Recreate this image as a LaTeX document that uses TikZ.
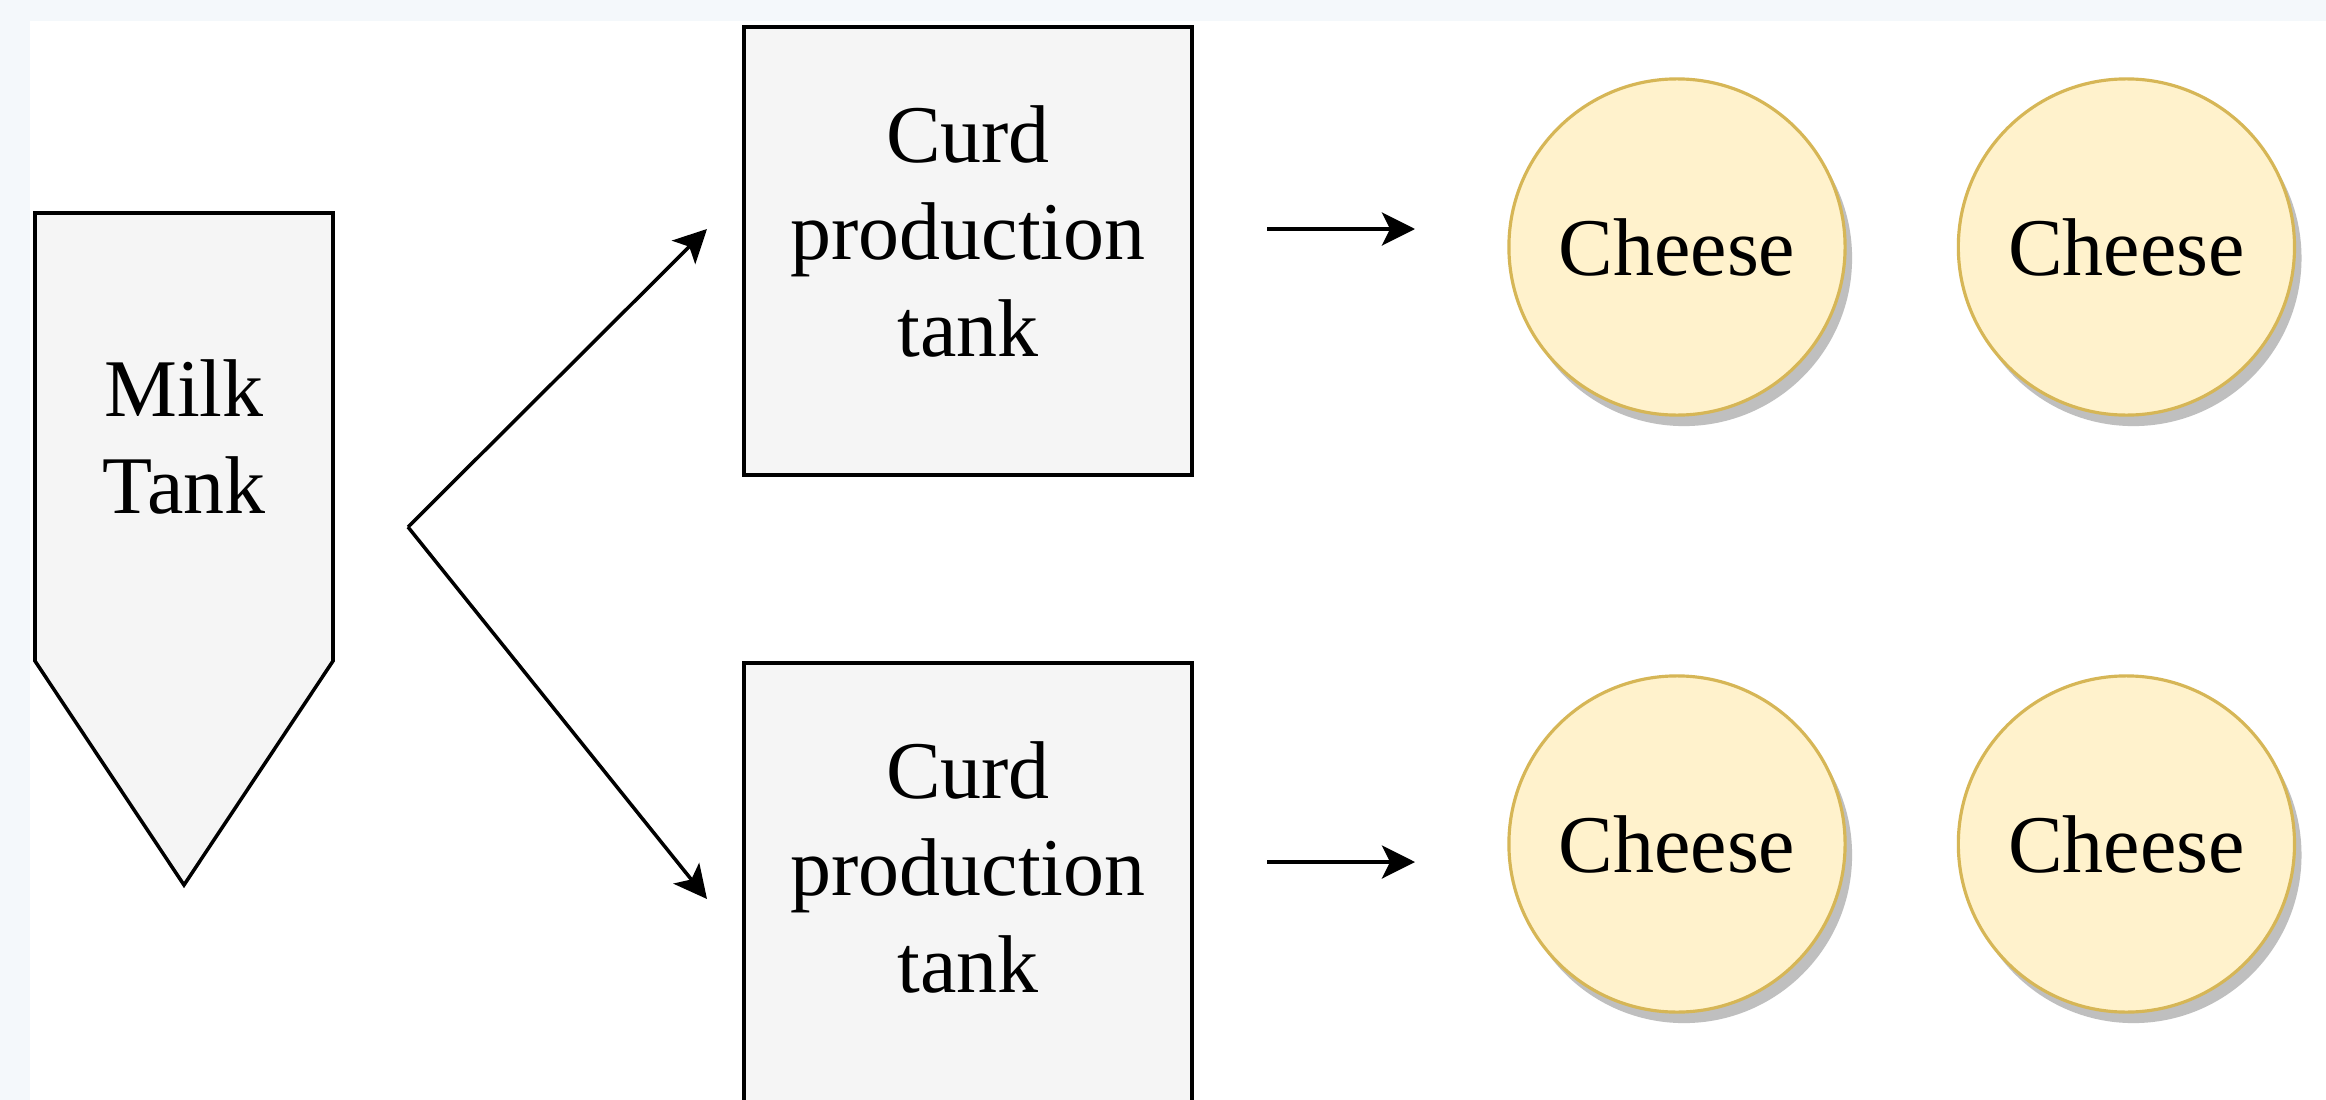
\documentclass[tikz,border=0pt]{standalone}
\usepackage{fontspec}
\setmainfont{Liberation Serif}
\usetikzlibrary{positioning}
\usetikzlibrary{shadows}
\usetikzlibrary{arrows.meta}

\definecolor{pagebg}{HTML}{F4F8FB}
\definecolor{tankfill}{HTML}{F5F5F5}
\definecolor{cheesefill}{HTML}{FFF2CC}
\definecolor{cheeseline}{HTML}{D6B656}

\begin{document}
\begin{tikzpicture}[x=0.01cm, y=-0.01cm,
    every node/.style={font=\fontsize{23.3}{27.6}\selectfont, align=center},
    T/.style={draw=black, fill=tankfill, line width=1pt},
    P/.style={draw=black, fill=tankfill, line width=1pt, rectangle, minimum width=4.48cm, minimum height=4.48cm, text depth=0.39cm},
    C/.style={draw=cheeseline, fill=cheesefill, line width=0.9pt, circle, minimum size=3.36cm, inner sep=0pt,
        drop shadow={shadow xshift=0.07cm, shadow yshift=-0.11cm, fill=black!25, opacity=1}},
    F/.style={line width=1pt, -{Stealth[length=0.33cm, width=0.33cm, inset=0.08cm]}}]
    \useasboundingbox (0,0) rectangle (2326,1100);
    \clip (0,0) rectangle (2326,1100);
    \fill[pagebg] (0,0) rectangle (2326,1100);
    \fill[white] (30,21) rectangle (2326,1100);

    % milk tank
    \draw[T] (35,213) -- (333,213) -- (333,661) -- (184,885) -- (35,661) -- cycle;
    \node (m0) at (184,437) {Milk\\Tank};

    \node[P] (p0) at (968,251) {Curd\\production\\tank};
    \node[P] (p1) [below=1.84cm of p0] {Curd\\production\\tank};

    \node[C] (c0) at (1677,247) {Cheese};
    \node[C] (c1) [right=1.10cm of c0] {Cheese};
    \node[C] (c2) at (1677,844) {Cheese};
    \node[C] (c3) [right=1.10cm of c2] {Cheese};

    \coordinate (s0) at (408,527);
    \coordinate (a0) at (707,229);
    \coordinate (a1) at (707,899);
    \coordinate (b0) at (1267,229);
    \coordinate (e0) at (1415,229);
    \coordinate (b1) at (1267,862);
    \coordinate (e1) at (1415,862);

    \draw[F] (s0) -- (a0);
    \draw[F] (s0) -- (a1);
    \draw[F] (b0) -- (e0);
    \draw[F] (b1) -- (e1);
\end{tikzpicture}
\end{document}
